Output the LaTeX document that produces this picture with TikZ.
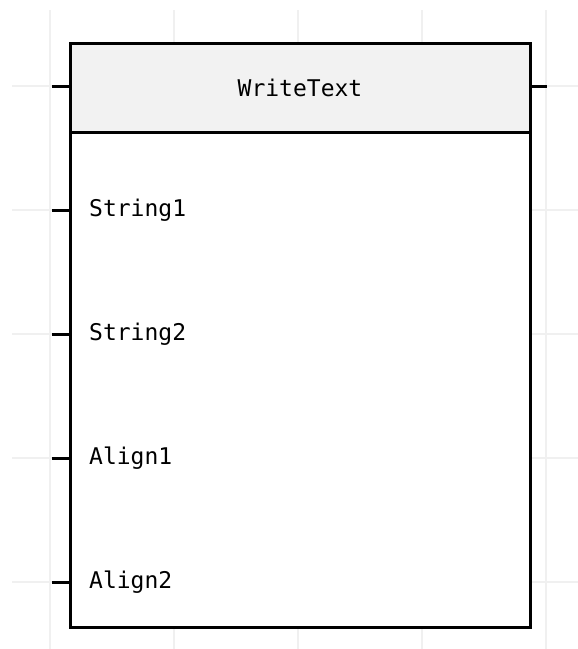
\documentclass[tikz,border=0pt]{standalone}
\usepackage{fontspec}
\setmonofont{DejaVu Sans Mono}
\begin{document}
\begin{tikzpicture}[x=1pt,y=-1pt,
  gridline/.style={draw=black!6,line width=2pt},
  blockframe/.style={draw=black,line width=3pt,fill=white,minimum width=460pt,minimum height=584pt,inner sep=0pt},
  headerbox/.style={draw=black,line width=3pt,fill=black!5,minimum width=460pt,minimum height=88.5pt,inner sep=0pt,
    font=\ttfamily\fontsize{23}{27}\selectfont},
  pinlabel/.style={anchor=west,inner sep=0pt,font=\ttfamily\fontsize{23}{27}\selectfont},
  pinline/.style={draw=black,line width=3pt}]
\useasboundingbox (0,0) rectangle (578,649);
% background grid
\foreach \gx in {50,174,298,422,546} \draw[gridline] (\gx,10) -- (\gx,649);
\foreach \gy in {86,210,334,458,582} \draw[gridline] (12,\gy) -- (578,\gy);
% function block
\node[blockframe] (block) at (300,335.5) {};
\node[headerbox,anchor=north] (header) at (block.north) {WriteText};
% connection points
\coordinate (en) at (52,86);
\coordinate (eno) at (547,86);
\draw[pinline] (en) -- (en -| block.west);
\draw[pinline] (eno) -- (eno -| block.east);
\foreach \name/\py/\txt in {s1/210/String1,s2/334/String2,a1/458/Align1,a2/582/Align2}{
  \node[pinlabel] (\name) at (89,\py) {\txt};
  \coordinate (\name-pin) at (52,\py);
  \draw[pinline] (\name-pin) -- (\name-pin -| block.west);
}
\end{tikzpicture}
\end{document}
